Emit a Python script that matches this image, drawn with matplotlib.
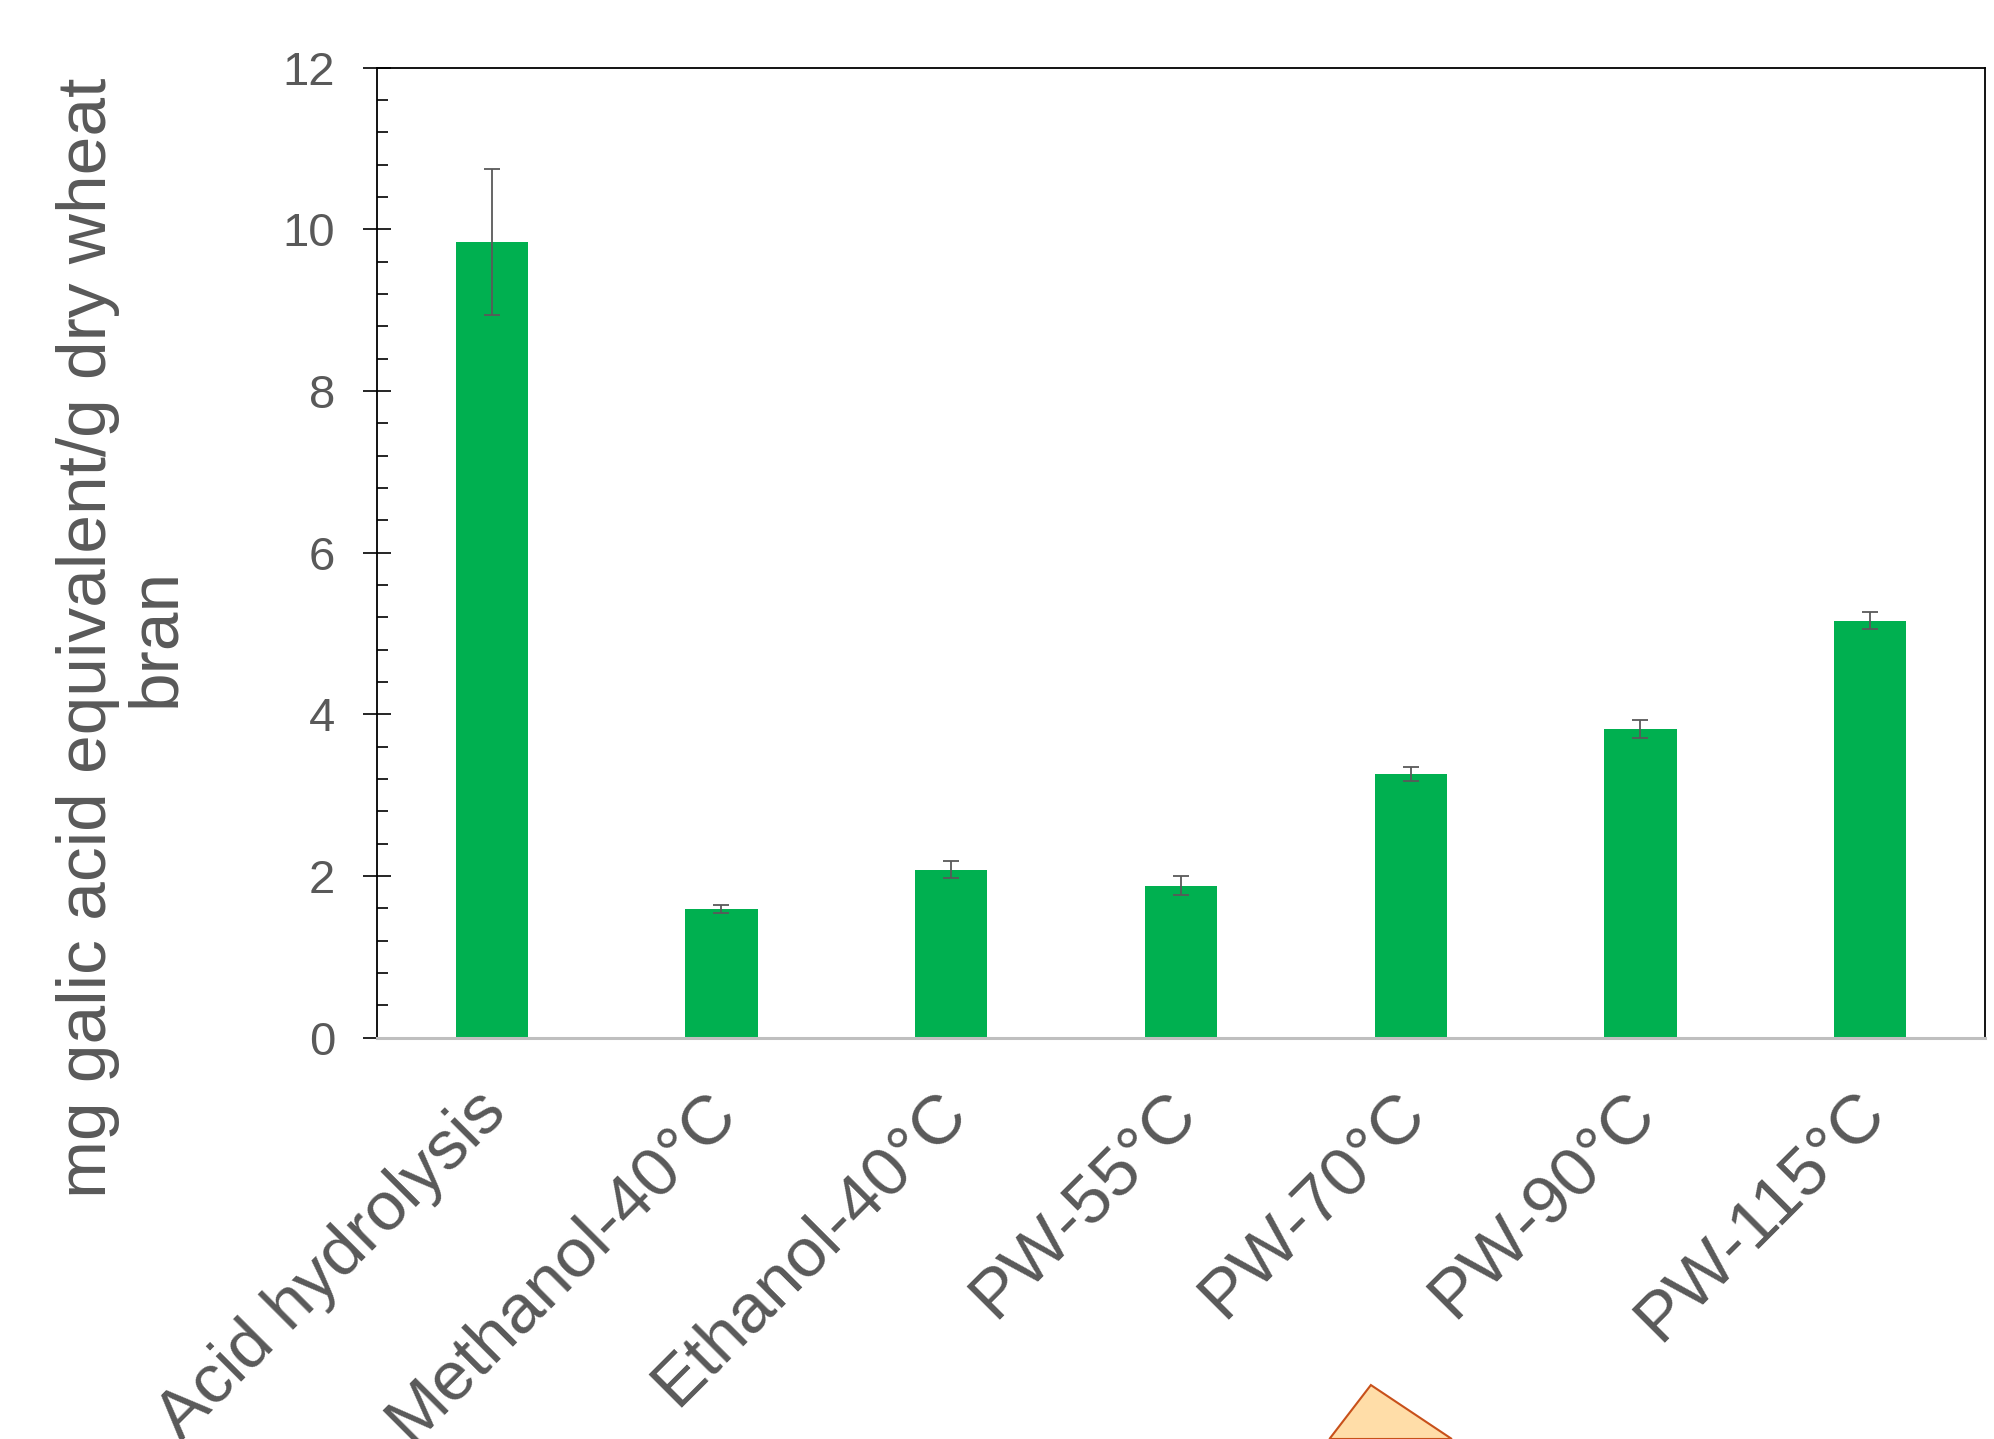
import matplotlib
matplotlib.use('Agg')
import matplotlib.pyplot as plt
from matplotlib.patches import Polygon
from matplotlib.ticker import MultipleLocator
from matplotlib.transforms import offset_copy
import numpy as np

plt.rcParams['font.family'] = ['Liberation Sans', 'DejaVu Sans']

# data
categories = ['Acid hydrolysis', 'Methanol-40\u00b0C', 'Ethanol-40\u00b0C', 'PW-55\u00b0C',
              'PW-70\u00b0C', 'PW-90\u00b0C', 'PW-115\u00b0C']
values = [9.84, 1.59, 2.08, 1.88, 3.26, 3.82, 5.16]
errors = [0.90, 0.05, 0.10, 0.12, 0.085, 0.11, 0.10]
ylabel = 'mg galic acid equivalent/g dry wheat\nbran'

GREEN = '#00B050'
GREY = '#595959'

fig = plt.figure(figsize=(19.94, 14.39), dpi=100)
ax = fig.add_axes([0.189, 0.2789, 0.8065, 0.6741])

x = np.arange(len(categories))
ax.bar(x, values, width=0.315, color=GREEN, zorder=2)
ax.errorbar(x, values, yerr=errors, fmt='none', ecolor=GREY, elinewidth=1.3,
            capsize=6, capthick=1.3, zorder=3)

ax.set_xlim(-0.5, len(categories) - 0.5)
ax.set_ylim(0, 12)
ax.yaxis.set_major_locator(MultipleLocator(2))
ax.yaxis.set_minor_locator(MultipleLocator(0.4))
ax.tick_params(axis='y', which='major', direction='inout', length=20, width=1.2,
               color='black', labelsize=34, labelcolor=GREY, pad=20)
ax.tick_params(axis='y', which='minor', direction='in', length=8, width=1.2, color='black')

# category labels, rotated like excel does
ax.set_xticks([])
lab_tr = offset_copy(ax.get_xaxis_transform(), fig=fig, x=-13, y=-30, units='points')
for i, name in enumerate(categories):
    ax.text(i, 0, name, transform=lab_tr, rotation=45, ha='right', va='top',
            rotation_mode='anchor', fontsize=50, color=GREY, clip_on=False)

for side in ['left', 'top', 'right']:
    ax.spines[side].set_color('black')
    ax.spines[side].set_linewidth(1.3)
ax.spines['bottom'].set_color('#BFBFBF')
ax.spines['bottom'].set_linewidth(2.2)

fig.text(0.0612, 0.557, ylabel, rotation=90, ha='center', va='center',
         multialignment='center', fontsize=50, color=GREY, linespacing=1.08)

# decorative shape peeking in at the bottom edge
tri = Polygon([(0.6667, 0.0), (0.6875, 0.0375), (0.7281, 0.0)], closed=True,
              transform=fig.transFigure, facecolor='#FFDDA8', edgecolor='#C8501A',
              linewidth=1.5, clip_on=False)
fig.patches.append(tri)

fig.savefig('out.png', dpi=100)
